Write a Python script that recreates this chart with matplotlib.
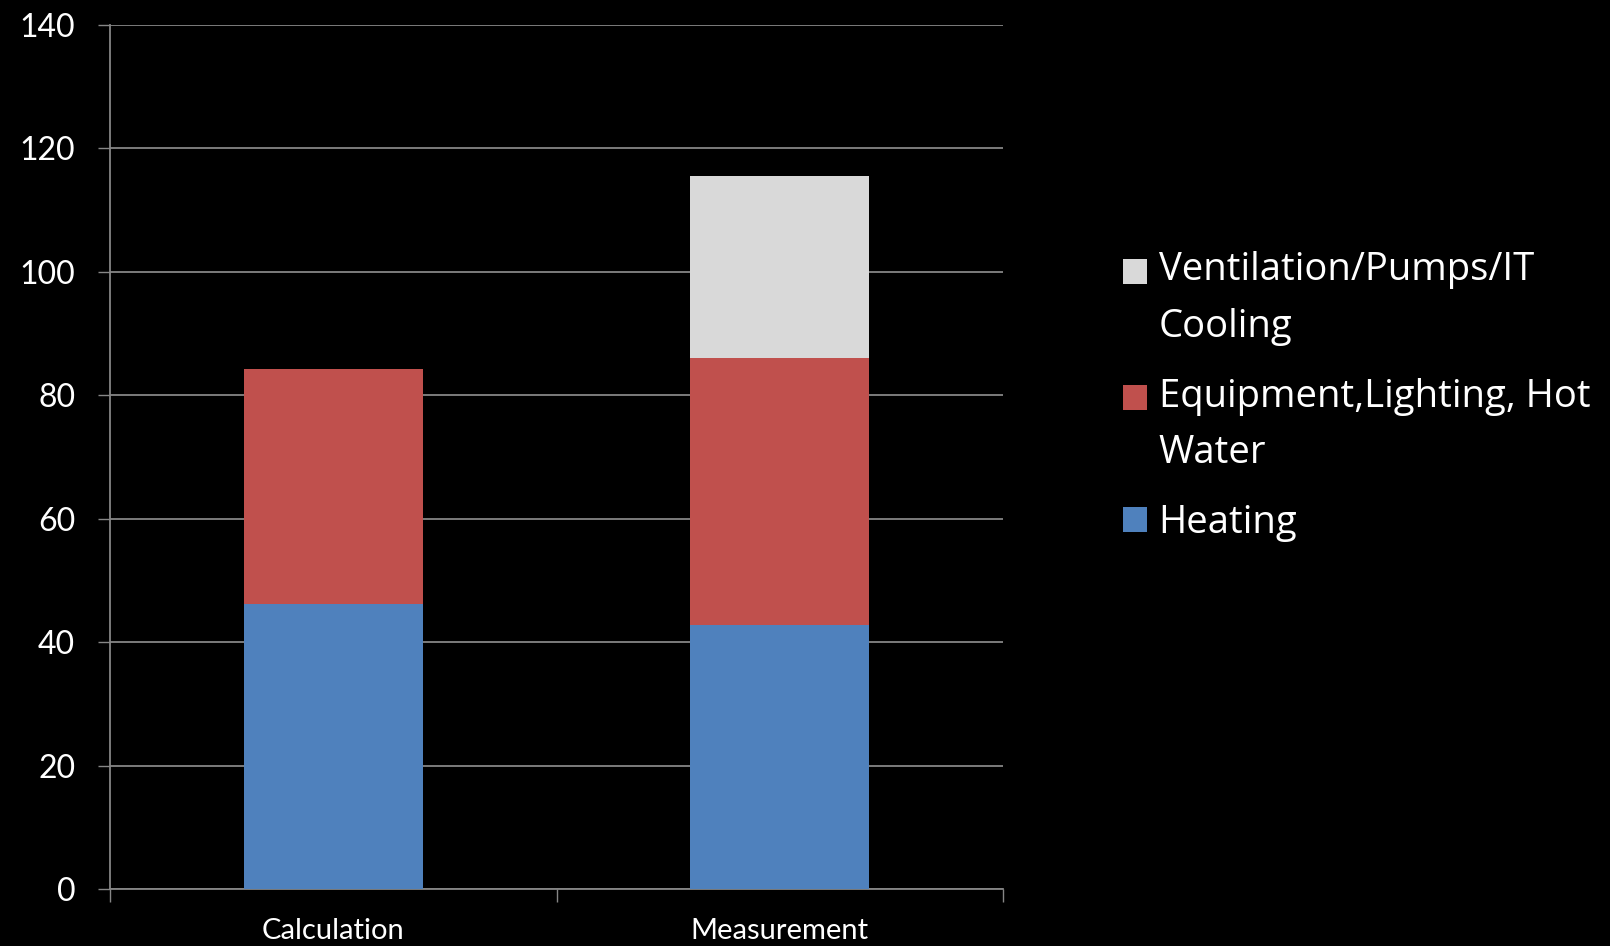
import numpy as np
import matplotlib
matplotlib.use("Agg")
import matplotlib.pyplot as plt
import matplotlib.patches as mpatches
from matplotlib.legend_handler import HandlerPatch

# значения
categories = ["Calculation", "Measurement"]
heating = [46.2, 42.7]
equipment = [38.0, 43.4]
ventilation = [0.0, 29.5]
series_names = ["Heating", "Equipment,Lighting, Hot\nWater", "Ventilation/Pumps/IT\nCooling"]
colors = ["#4F81BD", "#C0504D", "#D9D9D9"]

plt.rcParams['font.family'] = ['Lato', 'DejaVu Sans']

fig = plt.figure(figsize=(16.1, 9.46), dpi=100, facecolor="black")
ax = fig.add_axes([110 / 1610, 1 - 889 / 946, (1003 - 110) / 1610, (889 - 25) / 946])
ax.set_facecolor("black")

x = np.arange(len(categories))
bottom = np.zeros(len(categories))
bars = []
for vals, name, col in zip([heating, equipment, ventilation], series_names, colors):
    b = ax.bar(x, vals, width=0.4, bottom=bottom, color=col, label=name, zorder=3)
    bars.append(b)
    bottom += np.array(vals)

ax.set_xlim(-0.5, len(categories) - 0.5)
ax.set_ylim(0, 140)
ax.set_yticks(np.arange(0, 141, 20))
ax.grid(axis="y", color="#868686", linewidth=1.3, zorder=0)

# тики между категориями, как в Excel
ax.set_xticks(x)
ax.set_xticklabels(categories)
ax.set_xticks([-0.5, 0.5, 1.5], minor=True)
ax.tick_params(axis="x", which="major", length=0, pad=21, labelsize=21, colors="white")
ax.tick_params(axis="x", which="minor", length=9, width=1, color="#868686")
ax.tick_params(axis="y", length=9, width=1, color="#868686", pad=16, labelsize=23, labelcolor="white")

for s in ["top", "right"]:
    ax.spines[s].set_visible(False)
for s in ["left", "bottom"]:
    ax.spines[s].set_color("#868686")
    ax.spines[s].set_linewidth(1.3)


# квадратик легенды на уровне первой строки подписи
def square(shift):
    def f(legend, orig_handle, xdescent, ydescent, width, height, fontsize):
        return mpatches.Rectangle((-xdescent, -ydescent + shift * fontsize), width, height)
    return f


handles = [b[0] for b in bars[::-1]]
labels = series_names[::-1]
hmap = {h: HandlerPatch(patch_func=square(0.75 if "\n" in lab else 0.0))
        for h, lab in zip(handles, labels)}

leg = fig.legend(handles, labels, handler_map=hmap,
                 loc="upper left", bbox_to_anchor=(1089 / 1610, 1 - 217 / 946),
                 frameon=False, prop={"family": "Open Sans", "size": 27.5},
                 handlelength=0.62, handleheight=0.62,
                 handletextpad=0.3, labelspacing=0.82, labelcolor="white")
for t in leg.get_texts():
    t.set_linespacing(1.65)

fig.savefig("out.png", dpi=100, facecolor="black")
